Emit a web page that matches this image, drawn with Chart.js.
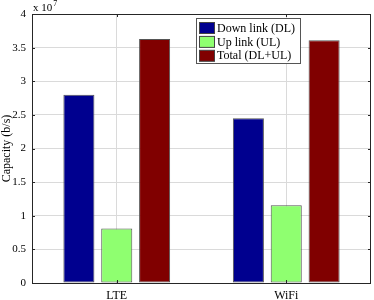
<!DOCTYPE html>
<html>
<head>
<meta charset="utf-8">
<script src="https://cdn.jsdelivr.net/npm/chart.js@4/dist/chart.umd.min.js"></script>
<style>
html,body{margin:0;padding:0;background:#fff;}
canvas{display:block;}
</style>
</head>
<body>
<canvas id="c" width="374" height="300"></canvas>
<script>
const categories = ['LTE', 'WiFi'];
const seriesNames = ['Down link (DL)', 'Up link (UL)', 'Total (DL+UL)'];
const downLink = [2.80e7, 2.45e7];
const upLink = [0.81e7, 1.155e7];
const total = [3.63e7, 3.61e7];
const yTickLabels = ['0', '0.5', '1', '1.5', '2', '2.5', '3', '3.5', '4'];
const yScaleFactor = 1e7;
const yExponentText = 'x 10';
const yExponent = '7';
const yTitle = 'Capacity (b/s)';

const colors = ['#00008F', '#8FFF70', '#800000'];
const FONT = "'Liberation Serif', 'Times New Roman', serif";

const framePlugin = {
  id: 'frame',
  afterDraw(chart) {
    const ctx = chart.ctx;
    const a = chart.chartArea;
    const y = chart.scales.y, x = chart.scales.x;
    ctx.save();
    ctx.strokeStyle = '#262626';
    ctx.lineWidth = 1;
    ctx.beginPath();
    ctx.rect(Math.round(a.left) + 0.5, Math.round(a.top) + 0.5, Math.round(a.right - a.left) - 1, Math.round(a.bottom - a.top));
    ctx.stroke();
    ctx.beginPath();
    y.ticks.forEach(t => {
      const py = Math.round(y.getPixelForValue(t.value)) + 0.5;
      ctx.moveTo(a.left, py); ctx.lineTo(a.left + 3, py);
      ctx.moveTo(a.right, py); ctx.lineTo(a.right - 3, py);
    });
    categories.forEach((c, i) => {
      const px = Math.round(x.getPixelForValue(i)) + 0.5;
      ctx.moveTo(px, a.bottom); ctx.lineTo(px, a.bottom - 3);
      ctx.moveTo(px, a.top); ctx.lineTo(px, a.top + 3);
    });
    ctx.stroke();
    ctx.fillStyle = '#000';
    ctx.textBaseline = 'alphabetic';
    ctx.textAlign = 'left';
    ctx.font = '11px ' + FONT;
    ctx.fillText(yExponentText, a.left + 1, 11);
    const w = ctx.measureText(yExponentText).width;
    ctx.font = '8px ' + FONT;
    ctx.fillText(yExponent, a.left + 1 + w + 1, 6);
    const lx = 196.5, ly = 18.5, lw = 104, lh = 45;
    ctx.fillStyle = '#fff';
    ctx.fillRect(lx, ly, lw, lh);
    ctx.strokeStyle = '#555';
    ctx.strokeRect(lx, ly, lw, lh);
    ctx.font = '12px ' + FONT;
    ctx.textBaseline = 'middle';
    chart.data.datasets.forEach((ds, i) => {
      const ry = 22.5 + i * 13.9;
      ctx.fillStyle = ds.backgroundColor;
      ctx.fillRect(199.5, ry, 15, 11);
      ctx.strokeStyle = '#444';
      ctx.strokeRect(199.5, ry, 15, 11);
      ctx.fillStyle = '#000';
      ctx.fillText(ds.label, 217, ry + 6);
    });
    ctx.restore();
  }
};

new Chart(document.getElementById('c'), {
  type: 'bar',
  data: {
    labels: categories,
    datasets: [
      { label: seriesNames[0], data: downLink, backgroundColor: colors[0] },
      { label: seriesNames[1], data: upLink, backgroundColor: colors[1] },
      { label: seriesNames[2], data: total, backgroundColor: colors[2] }
    ].map(d => Object.assign(d, {
      borderColor: '#555',
      borderWidth: 1,
      borderSkipped: false,
      categoryPercentage: 0.67,
      barPercentage: 0.82
    }))
  },
  options: {
    responsive: false,
    devicePixelRatio: 1,
    animation: false,
    layout: { padding: { top: 14, right: 3, left: 0, bottom: 0 } },
    plugins: { legend: { display: false }, tooltip: { enabled: false } },
    scales: {
      x: {
        offset: true,
        grid: { offset: false, color: '#dadada', drawTicks: false },
        border: { display: false },
        ticks: { color: '#000', font: { family: FONT, size: 12 }, padding: 6 },
        afterFit(s) { s.height = 17; }
      },
      y: {
        min: 0,
        max: 4e7,
        afterBuildTicks(s) {
          s.ticks = yTickLabels.map(l => ({ value: parseFloat(l) * yScaleFactor }));
        },
        ticks: {
          color: '#000',
          font: { family: FONT, size: 11 },
          padding: 6,
          callback(v) { return yTickLabels.find(l => parseFloat(l) * yScaleFactor === v) ?? ''; }
        },
        grid: { color: '#dadada', drawTicks: false },
        border: { display: false },
        title: { display: true, text: yTitle, color: '#000', font: { family: FONT, size: 12 }, padding: { top: 0, bottom: 0 } },
        afterFit(s) { s.width = 32; }
      }
    }
  },
  plugins: [framePlugin]
});
</script>
</body>
</html>
